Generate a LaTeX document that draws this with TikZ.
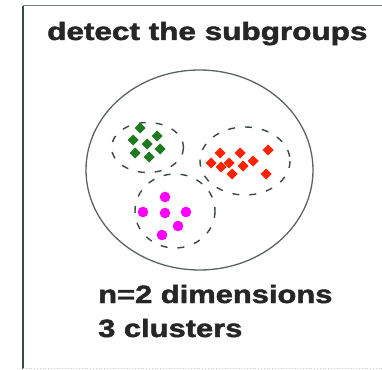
\documentclass[tikz,border=0pt]{standalone}
\usepackage{fontspec}
\setmainfont{Liberation Sans}
\newfontfamily\heavyfont[FakeBold=1.6]{Liberation Sans Bold}
\definecolor{dotgreen}{HTML}{1E7A1E}
\definecolor{dotred}{HTML}{FF2200}
\definecolor{dotpink}{HTML}{FF00FF}
\definecolor{lineclr}{HTML}{3A4A48}
\tikzset{
  px/.style={x=1pt,y=-1pt},
  bigtext/.style={anchor=base west,inner sep=0pt,text=black!85,font=\heavyfont\fontsize{25}{30}\selectfont},
  clusterline/.style={draw=lineclr,line width=1.4pt,dash pattern=on 7pt off 10pt},
  outerline/.style={draw=lineclr!85,line width=1.3pt},
  pdot/.style={fill=dotpink},
}
\newcommand{\dia}[3]{\fill[#1] (#2,#3) +(0,-5.5) -- +(5.5,0) -- +(0,5.5) -- +(-5.5,0) -- cycle;}
\begin{document}
\begin{tikzpicture}[px]
\useasboundingbox (0,0) rectangle (382,369);
\fill[white] (0,0) rectangle (382,369);
% frame
\draw[lineclr!70,line width=1pt] (23,6) -- (382,6);
\draw[lineclr,line width=2pt] (23,6) -- (23,369);
\draw[lineclr!30,line width=0.8pt,dotted] (23,368) -- (382,368);
% title and captions
\node[bigtext] (title) at (47,40) {\scalebox{1.26}[1]{detect the subgroups}};
\node[bigtext] (dims) at (98,303) {\scalebox{1.235}[1]{n=2 dimensions}};
\node[bigtext] (clus) at (98,337) {\scalebox{1.235}[1]{3 clusters}};
% outer circle
\draw[outerline] (199.5,170) ellipse [x radius=113.5, y radius=100];
% cluster outlines
\draw[clusterline] (147.5,147.5) ellipse [x radius=36, y radius=25];
\draw[clusterline] (245,161) ellipse [x radius=45, y radius=34];
\draw[clusterline] (175,211) ellipse [x radius=40, y radius=37];
% green points
\dia{dotgreen}{140}{128}
\dia{dotgreen}{157}{136}
\dia{dotgreen}{133}{140}
\dia{dotgreen}{147}{144}
\dia{dotgreen}{160}{149}
\dia{dotgreen}{135}{153}
\dia{dotgreen}{149}{157}
% red points
\dia{dotred}{220}{153}
\dia{dotred}{240}{153}
\dia{dotred}{268}{150}
\dia{dotred}{211}{163}
\dia{dotred}{229}{163}
\dia{dotred}{221}{167}
\dia{dotred}{243}{166}
\dia{dotred}{253}{161}
\dia{dotred}{232}{174}
\dia{dotred}{266}{174}
% pink points
\fill[pdot] (165,197) circle (5.3);
\fill[pdot] (143,212) circle (5.3);
\fill[pdot] (165,213) circle (5.3);
\fill[pdot] (186,212) circle (5.3);
\fill[pdot] (178,226) circle (5.3);
\fill[pdot] (162,235) circle (5.3);
\end{tikzpicture}
\end{document}
